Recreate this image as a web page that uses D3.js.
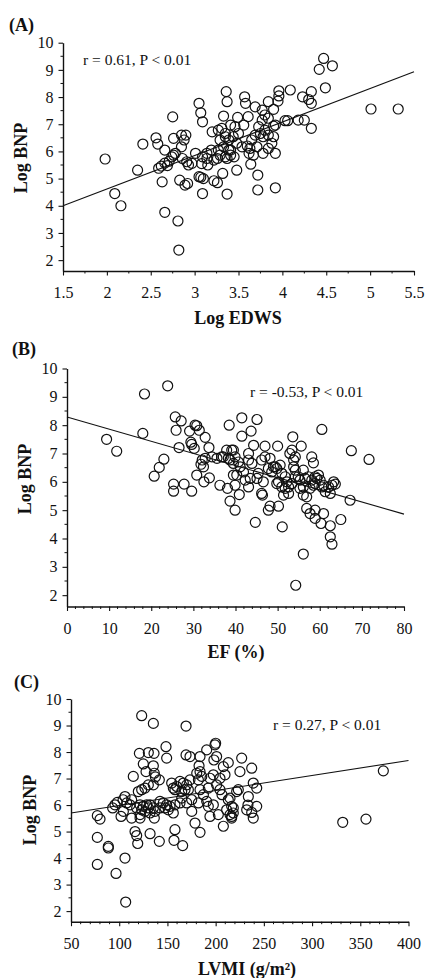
<!DOCTYPE html>
<html>
<head>
<meta charset="utf-8">
<script src="https://cdn.jsdelivr.net/npm/d3@7"></script>
<style>
  body { margin: 0; background: #fff; }
  svg { display: block; }
  text { font-family: "Liberation Serif", "DejaVu Serif", serif; fill: #111; }
</style>
</head>
<body>
<div id="chart"></div>
<script>
// log EDWS vs log BNP
const pointsA = [
  [1.98,5.72],[2.09,4.45],[2.16,4.0],[2.35,5.31],[2.41,6.27],[2.56,6.5],[2.58,6.27],[2.63,4.88],[2.66,3.76],
  [2.75,7.27],[2.81,3.44],[2.82,2.37],[2.83,4.94],[2.89,4.76],[2.92,4.82],[2.62,5.46],[2.66,5.57],[2.71,5.64],
  [2.59,5.38],[2.66,6.05],[2.76,6.48],[2.85,6.6],[2.9,6.6],[2.88,6.42],[2.85,6.17],[2.78,5.93],[2.86,5.74],
  [2.91,5.62],[2.97,5.56],[3.01,5.93],[3.14,5.93],[3.19,6.05],[3.09,5.8],[3.14,5.74],[3.2,6.72],[3.27,6.78],
  [3.31,6.85],[3.35,6.66],[3.29,6.42],[3.33,6.17],[3.27,6.05],[3.39,6.05],[3.41,5.86],[3.35,5.8],[3.26,5.74],
  [3.08,5.55],[3.15,5.5],[2.74,5.8],[2.76,5.86],[2.69,5.48],[2.93,5.5],[3.22,5.68],[3.45,5.8],
  [3.05,7.77],[3.07,7.42],[3.09,7.09],[3.05,5.07],[3.07,5.05],[3.1,5.0],[3.09,4.45],[3.22,4.92],[3.26,4.85],
  [3.32,5.19],[3.37,4.43],[3.36,8.2],[3.37,7.83],[3.33,7.3],[3.48,5.31],
  [4.47,9.42],[4.42,9.02],[4.57,9.15],[4.49,8.34],[4.33,8.2],[4.23,8.01],[4.3,7.91],[4.33,7.77],[4.09,8.26],
  [3.96,8.23],[3.96,8.04],[3.95,7.85],[3.84,7.83],[3.9,7.55],[5.01,7.56],[5.32,7.56],[4.06,7.13],[4.18,7.15],
  [4.25,7.15],[4.33,6.85],[4.03,7.13],[3.57,8.01],[3.58,7.77],[3.69,7.64],[3.77,7.52],[3.49,7.25],[3.61,7.28],
  [3.56,6.97],[3.5,6.66],[3.64,5.53],[3.72,5.13],[3.72,4.58],[3.92,4.66],
  [3.8,7.34],[3.84,7.22],[3.77,7.15],[3.73,6.91],[3.8,6.78],[3.75,6.66],[3.78,6.54],[3.84,6.6],[3.9,6.93],
  [3.9,6.54],[3.92,6.97],[3.41,6.97],[3.35,6.54],[3.39,6.42],[3.41,6.05],[3.29,5.86],[3.37,5.74],
  [3.54,6.17],[3.6,6.2],[3.63,6.11],[3.71,6.17],[3.62,5.93],[3.67,5.86],[3.78,5.93],[3.84,6.11],[3.92,5.93],
  [3.46,6.91],[3.44,6.54],[3.48,6.3],[3.69,6.6],[3.65,6.42],[3.88,6.3]
]
const fitA = [[1.5, 4.0], [5.5, 8.93]]

// EF vs log BNP
const pointsB = [
  [9.4,7.5],[11.8,7.08],[18.0,7.71],[18.4,9.1],[23.9,9.39],[20.7,6.2],[21.9,6.51],[23.0,6.8],[25.3,5.92],
  [25.3,5.67],[27.8,5.92],[29.6,5.67],[25.7,8.29],[27.1,8.15],[25.9,7.82],[26.6,7.21],[29.1,7.79],[30.4,8.0],
  [30.8,7.98],[31.4,7.82],[29.6,7.32],[30.2,7.18],[29.4,7.4],[32.8,7.57],[33.7,7.21],[30.8,6.24],[32.5,6.0],
  [33.8,6.14],[36.3,5.88],[38.1,5.77],[38.7,5.32],[39.9,5.0],[38.5,8.0],[31.8,6.62],[32.1,6.77],[32.8,6.83],
  [34.4,6.88],[32.4,6.53],[37.9,7.12],[39.5,7.12],[39.9,6.88],[38.7,6.77],[36.7,6.88],
  [41.5,8.26],[45.1,8.2],[43.7,7.79],[41.5,7.61],[44.3,7.29],[47.0,7.26],[50.0,7.26],[53.6,7.59],[55.6,7.26],
  [60.5,7.85],[67.5,7.1],[71.7,6.79],[67.2,5.35],[40.9,5.55],[44.7,4.57],[46.4,5.53],[48.2,5.14],[47.8,5.0],
  [50.2,5.14],[51.1,4.41],[56.1,3.45],[54.3,2.35],[56.9,5.06],[57.7,4.88],[58.9,4.71],[58.9,5.0],[60.9,4.88],
  [60.3,4.53],[62.5,4.45],[65.0,4.67],[62.5,4.06],[62.9,3.8],
  [63.3,6.0],[62.9,5.88],[62.1,5.82],[62.5,5.59],[61.3,5.65],[60.5,5.82],[60.1,6.06],[58.9,6.18],[59.7,6.24],
  [58.1,6.06],[58.5,5.88],[57.7,5.77],[56.1,5.82],[56.1,5.53],[56.9,5.47],[55.3,5.77],[54.9,6.18],[54.2,6.18],
  [53.4,5.94],[52.6,5.82],[52.6,5.59],[51.4,5.53],[51.0,5.82],[50.2,6.0],[51.0,6.3],[49.8,5.94],[48.6,6.35],
  [49.4,6.53],[50.6,6.59],[47.8,6.47],[48.2,6.83],[47.0,6.88],[46.2,6.77],[46.6,6.0],[46.2,5.59],[45.4,6.3],
  [45.1,6.12],[43.5,6.12],[43.1,5.82],[42.3,6.06],[41.9,6.35],[41.1,6.53],[40.3,6.24],[39.9,5.88],[39.5,6.24],
  [39.5,6.65],[38.3,6.83],[37.1,6.88],[35.6,6.83],[53.8,6.77],[54.2,6.88],[53.8,6.53],[54.2,6.41],[56.1,6.41],
  [58.1,6.88],[58.5,6.67],[59.3,6.12],[58.9,5.94],[53.4,7.12],[52.9,7.0],[43.1,6.77],[43.9,6.65],[43.1,7.0],
  [40.7,6.7],[39.1,7.12],[49.0,6.53],[49.8,6.47],[51.8,6.18],[52.2,6.0],[51.8,5.77],[55.3,6.06],[56.5,6.12],
  [57.3,6.18],[60.9,5.88],[63.7,5.92]
]
const fitB = [[0, 8.29], [80, 4.86]]

// LVMI vs log BNP
const pointsC = [
  [123.3,9.37],[135.4,9.08],[169.3,8.98],[77.3,5.6],[80.1,5.47],[77.3,4.78],[88.7,4.44],[88.7,4.38],[77.3,3.76],
  [96.7,3.42],[106,4.0],[106.7,2.34],[93.2,5.89],[95.6,6.01],[98,6.1],[101.9,5.57],[106,6.32],[104,6.2],
  [112.9,6.2],[114.6,7.08],[116.4,5.0],[118.1,4.85],[119.2,4.55],[112.9,5.51],[121.6,5.51],[120.9,7.95],
  [130.2,7.98],[136.1,7.95],[125,7.55],[127.8,7.26],[135.4,7.48],[136.4,7.2],[137.5,7.06],[141.6,6.95],
  [132,4.92],[141.6,4.63],[136.4,5.51],[148.5,8.2],[149.2,7.77],[157.8,5.07],[156.8,4.67],[165.8,4.47],
  [169.3,7.89],[173.4,7.83],[175.2,5.76],[178.6,5.32],[183.8,4.97],[183.8,7.83],
  [130.2,6.76],[126.7,6.64],[123.3,6.58],[119.8,6.51],[135.4,6.76],[118.1,5.89],[121.6,6.01],[125,5.95],
  [128.5,6.01],[131.9,6.01],[130.2,5.89],[126.7,5.76],[123.3,5.82],[121.6,5.64],[131.9,5.7],[135.4,5.89],
  [142.3,6.14],[145.7,6.08],[149.2,6.01],[152.7,5.95],[147.5,5.89],[150.9,5.82],[156.1,5.7],[157.8,6.01],
  [142.3,5.89],[137.1,5.76],[154.4,6.83],[159.6,6.7],[163,6.89],[166.5,6.83],[170,6.76],[171.7,6.58],
  [168.2,6.58],[164.8,6.51],[157.8,6.58],[156.1,6.64],[173.4,6.95],[180.4,7.2],[183.8,7.26],[185.6,7.08],
  [182.1,6.95],[183.8,6.58],[187.3,6.39],[182.1,6.08],[190.7,6.14],[192.4,5.95],[194.1,5.57],[197.6,6.01],
  [202.8,5.64],[208,5.2],[216.6,5.57],[218.3,5.89],[223.5,6.58],[225.2,7.26],[213.1,7.6],[208,7.45],
  [209.7,7.14],[204.5,7.01],[197.6,7.14],[194.1,7.01],[190.7,8.08],[199.3,8.27],[200,8.33],[198.2,7.7],
  [201,7.83],[182.8,7.48],[204.5,6.58],[213.1,6.2],[211.4,5.82],[192.4,6.64],[201,6.76],[175.2,6.2],
  [170,6.08],[163,6.08],[164.8,6.26],[107.8,6.08],[111.2,6.01],[104.3,5.76],
  [373.9,7.29],[331.8,5.35],[355.9,5.47],[227,7.77],[237.4,7.39],[239,6.83],[242.6,6.64],[221.8,6.51],
  [206.6,6.39],[214.9,6.26],[233.9,6.32],[233.5,6.0],[242.6,5.95],[232.2,5.82],[237.4,5.72],[239,5.51],
  [216.6,5.95],[218.3,5.7],[214.9,5.64],[216.6,5.51]
]
const fitC = [[50, 5.7], [400, 7.68]]

const yTicks = [2, 3, 4, 5, 6, 7, 8, 9, 10]
const xTicksA = [1.5, 2, 2.5, 3, 3.5, 4, 4.5, 5, 5.5]
const xTicksB = [0, 10, 20, 30, 40, 50, 60, 70, 80]
const xTicksC = [50, 100, 150, 200, 250, 300, 350, 400]

const width = 426, height = 978

const panels = [
  { label: "(A)", points: pointsA, fit: fitA, xTicks: xTicksA, xMinor: 0.25, xTitle: "Log EDWS",
    note: "r = 0.61, P < 0.01", xr: [63, 414], yr: [271, 42.7],
    labelPos: [9, 31], notePos: [83, 65], title: [238, 324], yTitle: [26.5, 158] },
  { label: "(B)", points: pointsB, fit: fitB, xTicks: xTicksB, xMinor: 2, xTitle: "EF (%)",
    note: "r = -0.53, P < 0.01", xr: [67, 404], yr: [606.5, 368.5],
    labelPos: [12, 355], notePos: [250, 397], title: [236, 658], yTitle: [31, 479] },
  { label: "(C)", points: pointsC, fit: fitC, xTicks: xTicksC, xMinor: 10, xTitle: "LVMI (g/m\u00B2)",
    note: "r = 0.27, P < 0.01", xr: [71, 408.5], yr: [921.7, 699],
    labelPos: [14, 688], notePos: [273, 730], title: [247, 975], yTitle: [36, 810] }
]

const svg = d3.select("#chart").append("svg")
  .attr("width", width)
  .attr("height", height)

panels.forEach(p => {
  const x = d3.scaleLinear()
    .domain([p.xTicks[0], p.xTicks[p.xTicks.length - 1]])
    .range(p.xr)
  const y = d3.scaleLinear().domain([1.6, 10]).range(p.yr)
  const g = svg.append("g")

  // minor ticks
  const [x0, x1] = x.domain()
  const xMinor = d3.range(x0, x1 + 1e-9, p.xMinor).filter(v => !p.xTicks.some(t => Math.abs(t - v) < 1e-9))
  g.selectAll(".xm").data(xMinor).join("line")
    .attr("x1", d => x(d)).attr("x2", d => x(d))
    .attr("y1", p.yr[0]).attr("y2", p.yr[0] + 2.5)
    .attr("stroke", "#111").attr("stroke-width", 1)
  const yMinor = d3.range(2.5, 10, 1)
  g.selectAll(".ym").data(yMinor).join("line")
    .attr("x1", p.xr[0] - 2.5).attr("x2", p.xr[0])
    .attr("y1", d => y(d)).attr("y2", d => y(d))
    .attr("stroke", "#111").attr("stroke-width", 1)

  const xAxis = g.append("g")
    .attr("transform", `translate(0,${p.yr[0]})`)
    .call(d3.axisBottom(x).tickValues(p.xTicks).tickFormat(d => String(d)).tickSize(4.5).tickSizeOuter(0))
  xAxis.selectAll("text").attr("y", 27).attr("dy", null).style("font-size", "16px")

  const yAxis = g.append("g")
    .attr("transform", `translate(${p.xr[0]},0)`)
    .call(d3.axisLeft(y).tickValues(yTicks).tickFormat(d3.format("d")).tickSize(4.5).tickPadding(5).tickSizeOuter(0))
  yAxis.selectAll("text").style("font-size", "16px")

  g.selectAll(".domain").attr("stroke", "#111").attr("stroke-width", 1.4)
  g.selectAll(".tick line").attr("stroke", "#111").attr("stroke-width", 1.1)

  // regression line
  g.append("path")
    .datum(p.fit)
    .attr("fill", "none")
    .attr("stroke", "#111")
    .attr("stroke-width", 1.1)
    .attr("d", d3.line().x(d => x(d[0])).y(d => y(d[1])))

  g.selectAll("circle").data(p.points).join("circle")
    .attr("cx", d => x(d[0]))
    .attr("cy", d => y(d[1]))
    .attr("r", 5)
    .attr("fill", "none")
    .attr("stroke", "#111")
    .attr("stroke-width", 1.2)

  g.append("text")
    .attr("x", p.labelPos[0]).attr("y", p.labelPos[1])
    .style("font-size", "18px").style("font-weight", "bold")
    .text(p.label)

  g.append("text")
    .attr("x", p.notePos[0]).attr("y", p.notePos[1])
    .style("font-size", "15.5px")
    .text(p.note)

  g.append("text")
    .attr("x", p.title[0]).attr("y", p.title[1])
    .attr("text-anchor", "middle")
    .style("font-size", "18px").style("font-weight", "bold")
    .text(p.xTitle)

  g.append("text")
    .attr("transform", `translate(${p.yTitle[0]},${p.yTitle[1]}) rotate(-90)`)
    .attr("text-anchor", "middle")
    .style("font-size", "18px").style("font-weight", "bold")
    .text("Log BNP")
})
</script>
</body>
</html>
